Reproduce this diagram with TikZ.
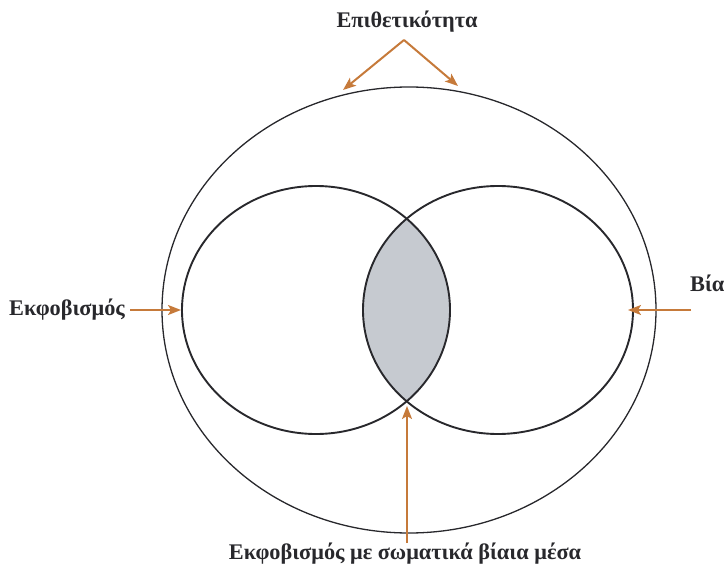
\documentclass[tikz,border=0pt]{standalone}
\usepackage{fontspec}
\setmainfont{Liberation Serif}
\usetikzlibrary{arrows.meta}
\definecolor{arr}{RGB}{198,122,58}
\definecolor{lens}{RGB}{198,202,208}
\definecolor{ink}{RGB}{40,40,44}
\tikzset{
  ptr/.style={draw=arr,line width=2pt,-{Stealth[length=13pt,width=10pt,inset=3pt]}},
  lbl/.style={font=\bfseries\fontsize{22.3}{25}\selectfont,text=ink,inner sep=1pt},
  ring/.style={draw=ink,line width=1.9pt}
}
\begin{document}
\begin{tikzpicture}[x=1pt,y=-1pt]
\useasboundingbox (0,0) rectangle (726,567);
% outer ellipse
\draw[draw=ink,line width=1.3pt] (409,310) ellipse [x radius=247,y radius=223];
% lens
\begin{scope}
  \clip (316,310) ellipse [x radius=134,y radius=124];
  \fill[lens] (498,310) ellipse [x radius=135,y radius=124];
\end{scope}
\draw[ring] (316,310) ellipse [x radius=134,y radius=124];
\draw[ring] (498,310) ellipse [x radius=135,y radius=124];
% coordinates
\coordinate (tl) at (343,90);
\coordinate (tr) at (458,86);
\coordinate (apex) at (404,40);
\coordinate (lt) at (181,310);
\coordinate (rt) at (628,310);
\coordinate (rs) at (691,310);
\coordinate (bt) at (407,406);
\coordinate (bs) at (407,543);
% labels
\node[lbl] (top) at (407,22) {Επιθετικότητα};
\node[lbl,anchor=east] (left) at (126,310) {Εκφοβισμός};
\node[lbl,anchor=west] (right) at (689,283) {Βία};
\node[lbl] (bottom) at (405,554) {Εκφοβισμός με σωματικά βίαια μέσα};
% arrows
\draw[ptr] (apex) -- (tl);
\draw[ptr] (apex) -- (tr);
\draw[ptr] (left.east) ++(4,0) -- (lt);
\draw[ptr] (rs) -- (rt);
\draw[ptr] (bs) -- (bt);
\end{tikzpicture}
\end{document}
